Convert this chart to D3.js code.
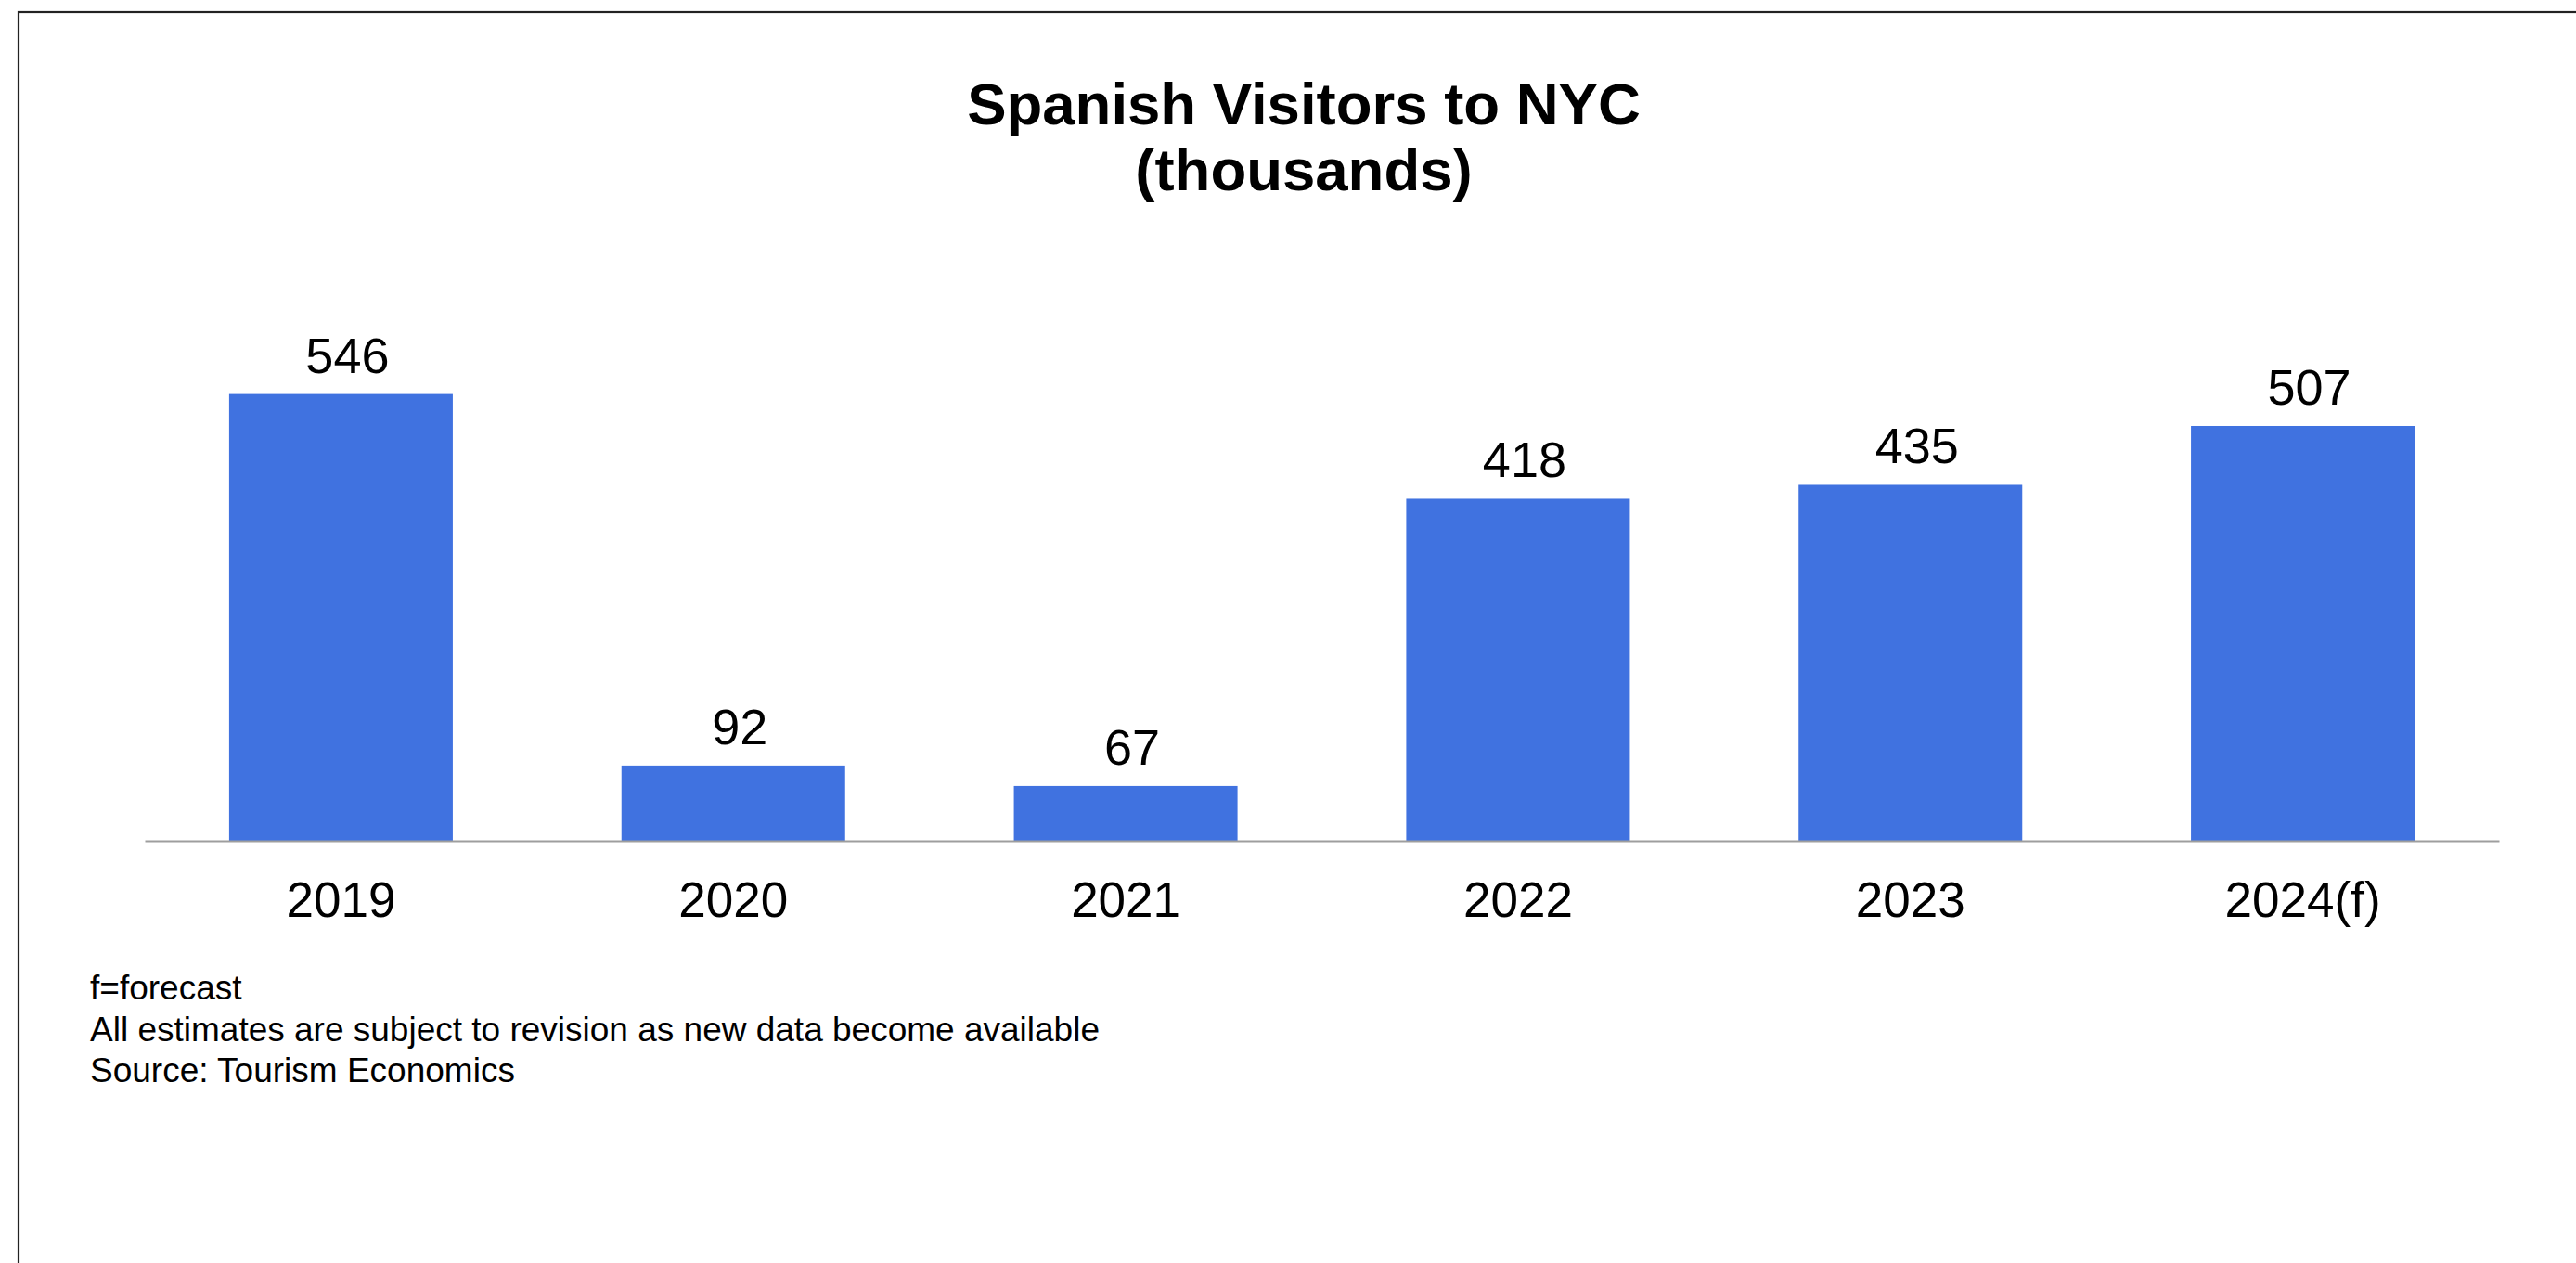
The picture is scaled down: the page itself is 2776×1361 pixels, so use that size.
<!DOCTYPE html>
<html>
<head>
<meta charset="utf-8">
<script src="https://cdn.jsdelivr.net/npm/d3@7"></script>
<style>
  html, body { margin: 0; padding: 0; background: #ffffff; }
  svg { display: block; }
  text { font-family: "Liberation Sans", Arial, sans-serif; fill: #000; }
</style>
</head>
<body>
<svg id="chart" width="2776" height="1361"></svg>
<script>
// Spanish visitors to NYC, thousands
const years = ["2019", "2020", "2021", "2022", "2023", "2024(f)"];
const visitors = [546, 92, 67, 418, 435, 507];
const titleLines = ["Spanish Visitors to NYC", "(thousands)"];
const notes = [
  "f=forecast",
  "All estimates are subject to revision as new data become available",
  "Source: Tourism Economics"
];

const svg = d3.select("#chart");
const W = 2776, H = 1361;

// outer frame (runs off the right and bottom edges)
svg.append("rect")
  .attr("x", 20).attr("y", 13)
  .attr("width", W).attr("height", H)
  .attr("fill", "none")
  .attr("stroke", "#222")
  .attr("stroke-width", 2.2);

const plot = { left: 156, right: 2693, top: 377, bottom: 906 };

const x = d3.scaleBand()
  .domain(years)
  .range([plot.left, plot.right])
  .paddingInner(0.43)
  .paddingOuter(0.215);

const y = d3.scaleLinear()
  .domain([0, 600])
  .range([plot.bottom, plot.top]);

// title
svg.append("text")
  .attr("x", 1405)
  .attr("y", 134)
  .attr("text-anchor", "middle")
  .style("font-size", "63.5px")
  .style("font-weight", "bold")
  .selectAll("tspan")
  .data(titleLines)
  .join("tspan")
  .attr("x", 1405)
  .attr("dy", (d, i) => i === 0 ? 0 : 71)
  .text(d => d);

// bars
svg.append("g")
  .selectAll("rect")
  .data(visitors)
  .join("rect")
  .attr("x", (d, i) => x(years[i]))
  .attr("y", d => y(d))
  .attr("width", x.bandwidth())
  .attr("height", d => y(0) - y(d))
  .attr("fill", "#4072E0");

// value labels
svg.append("g")
  .selectAll("text")
  .data(visitors)
  .join("text")
  .attr("x", (d, i) => x(years[i]) + x.bandwidth() / 2 + 7)
  .attr("y", d => y(d) - 23)
  .attr("text-anchor", "middle")
  .style("font-size", "54px")
  .text(d => d);

// category axis
const xAxis = d3.axisBottom(x).tickSize(0).tickPadding(44);
const gx = svg.append("g")
  .attr("transform", `translate(0,${plot.bottom})`)
  .call(xAxis);
gx.select(".domain")
  .attr("stroke", "#9e9e9e")
  .attr("stroke-width", 2);
gx.selectAll(".tick text")
  .attr("dy", "0.71em")
  .style("font-family", "\"Liberation Sans\", Arial, sans-serif")
  .style("font-size", "53px")
  .attr("fill", "#000");

// footnotes
svg.append("g")
  .selectAll("text")
  .data(notes)
  .join("text")
  .attr("x", 97)
  .attr("y", (d, i) => 1077 + i * 44.5)
  .style("font-size", "37px")
  .text(d => d);
</script>
</body>
</html>
